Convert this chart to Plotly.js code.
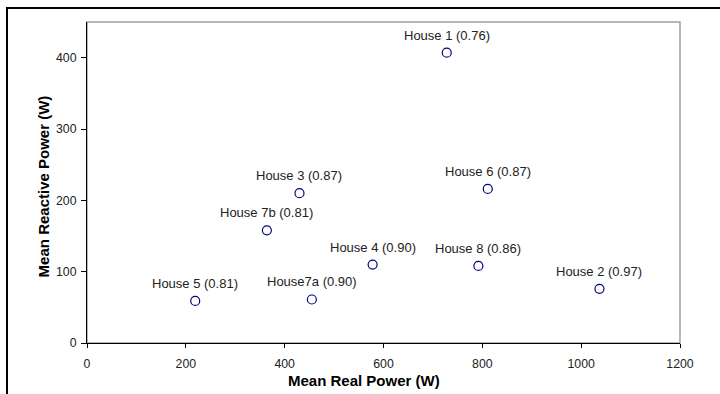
<!DOCTYPE html>
<html>
<head>
<meta charset="utf-8">
<script src="https://cdn.plot.ly/plotly-3.0.1.min.js"></script>
<style>
  html, body { margin: 0; padding: 0; background: #fff; overflow: hidden; }
  #wrap { position: relative; width: 720px; height: 394px; }
  #chart { position: absolute; left: 0; top: 0; width: 720px; height: 394px; }
  #frame { position: absolute; left: 6px; top: 7px; width: 800px; height: 500px;
           border-left: 2px solid #000; border-top: 2px solid #000; pointer-events: none; }
</style>
</head>
<body>
<div id="wrap">
  <div id="chart"></div>
  <div id="frame"></div>
</div>
<script>
const labels = ["House 1 (0.76)", "House 6 (0.87)", "House 3 (0.87)", "House 7b (0.81)",
                "House 4 (0.90)", "House 8 (0.86)", "House 2 (0.97)", "House7a (0.90)", "House 5 (0.81)"];
const realPower = [728, 811, 430, 364, 578, 792, 1037, 455, 219];
const reactivePower = [407, 216, 210, 158, 110, 108, 76, 61, 59];

const xTicks = [0, 200, 400, 600, 800, 1000, 1200];
const yTicks = [0, 100, 200, 300, 400];
const xTitle = "Mean Real Power (W)";
const yTitle = "Mean Reactive Power (W)";

const font = "Liberation Sans, Arial, sans-serif";

const trace = {
  x: realPower,
  y: reactivePower,
  type: "scatter",
  mode: "markers",
  marker: { symbol: "circle-open", size: 9, color: "#000080", line: { width: 1.2, color: "#000080" } },
  hoverinfo: "none",
  cliponaxis: false
};

const pointLabels = labels.map((t, i) => ({
  text: t, x: realPower[i], y: reactivePower[i], xref: "x", yref: "y",
  xanchor: "center", yanchor: "bottom", yshift: 8, showarrow: false,
  font: { family: font, size: 13, color: "#222" }
}));

const layout = {
  width: 720, height: 394,
  margin: { l: 87, r: 40, t: 22, b: 51 },
  paper_bgcolor: "#fff",
  plot_bgcolor: "#fff",
  showlegend: false,
  font: { family: font, color: "#222" },
  xaxis: {
    range: [0, 1200],
    tickvals: xTicks,
    ticktext: xTicks.map(String),
    showgrid: false, zeroline: false,
    showline: true, linecolor: "#000", linewidth: 1,
    ticks: "outside", ticklen: 4, tickcolor: "#000", tickwidth: 1,
    ticklabelstandoff: 5,
    tickfont: { family: font, size: 12.3, color: "#222" }
  },
  yaxis: {
    range: [0, 450],
    tickvals: yTicks,
    ticktext: yTicks.map(String),
    showgrid: false, zeroline: false,
    showline: true, linecolor: "#000", linewidth: 1,
    ticks: "outside", ticklen: 5, tickcolor: "#000", tickwidth: 1,
    ticklabelstandoff: 2,
    tickfont: { family: font, size: 12.3, color: "#222" }
  },
  annotations: pointLabels.concat([
    { text: "<b>" + xTitle + "</b>", xref: "paper", yref: "paper", x: 0.467, y: -0.118,
      xanchor: "center", yanchor: "middle", showarrow: false,
      font: { family: font, size: 15, color: "#000" } },
    { text: "<b>" + yTitle + "</b>", xref: "paper", yref: "paper", x: -0.073, y: 0.487,
      xanchor: "center", yanchor: "middle", showarrow: false, textangle: -90,
      font: { family: font, size: 15, color: "#000" } }
  ]),
  shapes: [{
    type: "rect", xref: "paper", yref: "paper", x0: 0, x1: 1, y0: 0, y1: 1,
    line: { color: "#a0a0a0", width: 1.5 }, layer: "below"
  }]
};

Plotly.newPlot("chart", [trace], layout, { displayModeBar: false, staticPlot: true });
</script>
</body>
</html>
